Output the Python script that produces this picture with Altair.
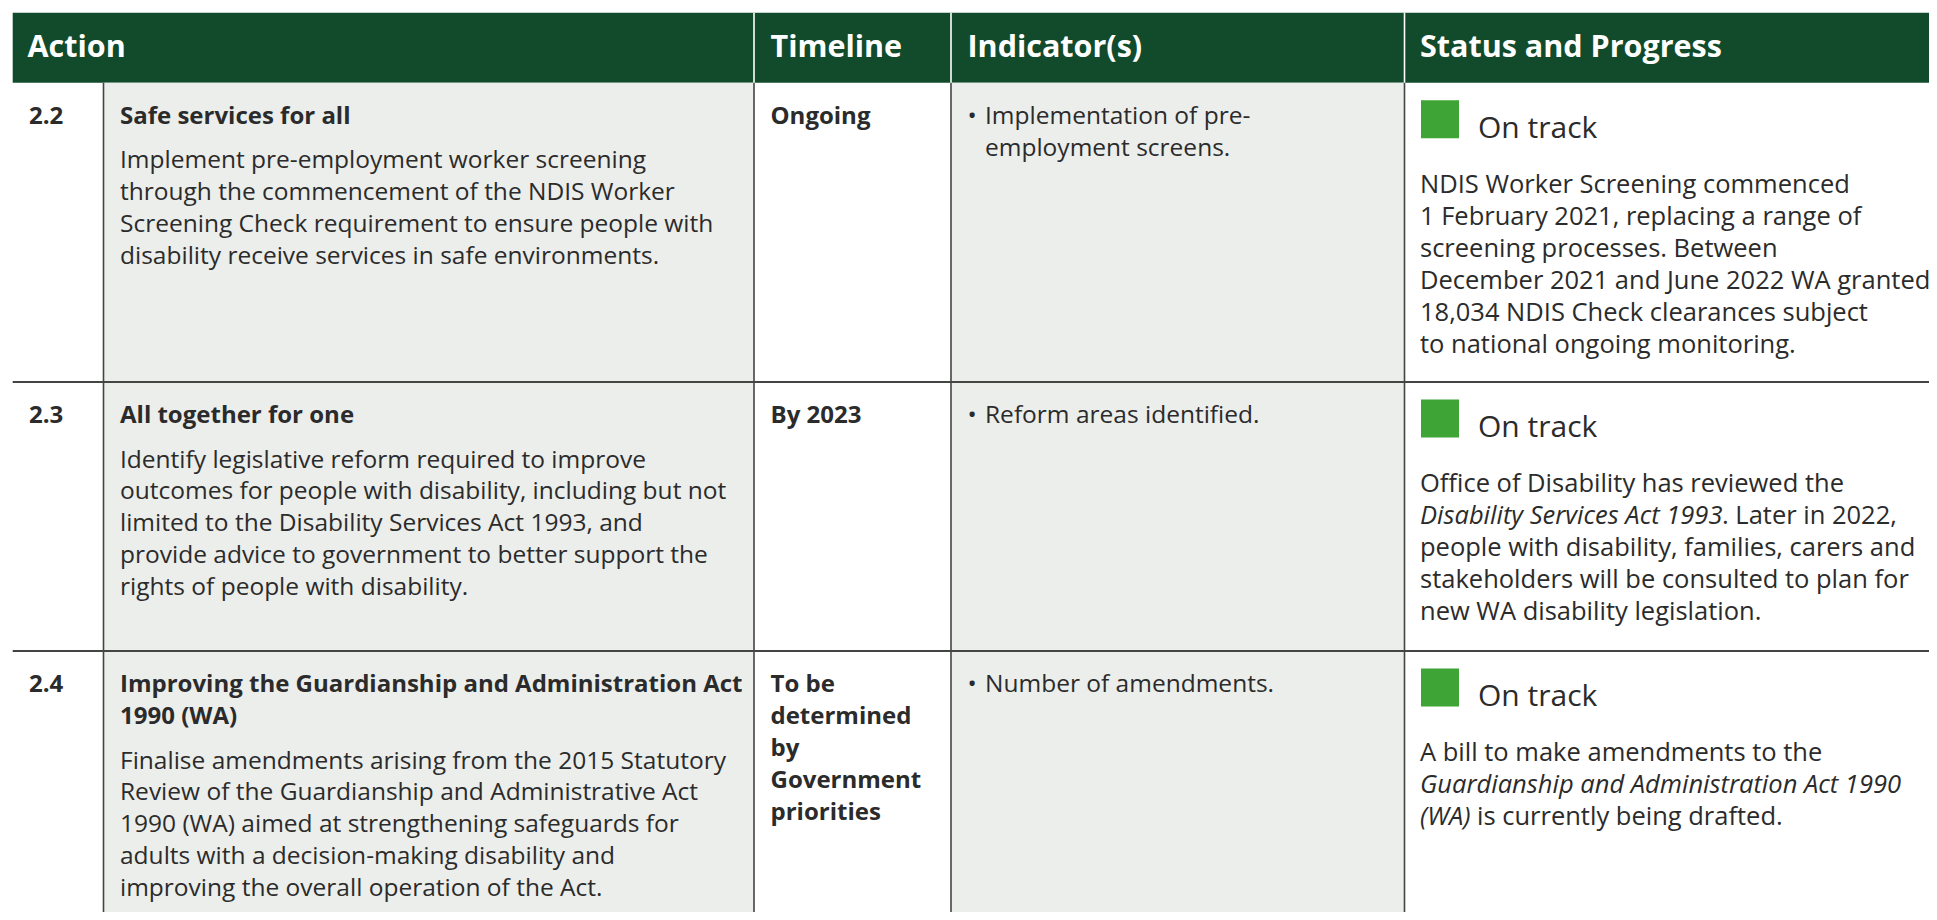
import altair as alt
import pandas as pd

# ---------------- content ----------------
HEADERS = ["Action", "Timeline", "Indicator(s)", "Status and Progress"]

ACTION_IDS = ["2.2", "2.3", "2.4"]

ACTION_TITLES = [
    ["Safe services for all"],
    ["All together for one"],
    ["Improving the Guardianship and Administration Act", "1990 (WA)"],
]

ACTION_BODIES = [
    ["Implement pre-employment worker screening",
     "through the commencement of the NDIS Worker",
     "Screening Check requirement to ensure people with",
     "disability receive services in safe environments."],
    ["Identify legislative reform required to improve",
     "outcomes for people with disability, including but not",
     "limited to the Disability Services Act 1993, and",
     "provide advice to government to better support the",
     "rights of people with disability."],
    ["Finalise amendments arising from the 2015 Statutory",
     "Review of the Guardianship and Administrative Act",
     "1990 (WA) aimed at strengthening safeguards for",
     "adults with a decision-making disability and",
     "improving the overall operation of the Act."],
]

TIMELINES = [
    ["Ongoing"],
    ["By 2023"],
    ["To be", "determined", "by", "Government", "priorities"],
]

INDICATORS = [
    ["Implementation of pre-", "employment screens."],
    ["Reform areas identified."],
    ["Number of amendments."],
]

STATUSES = ["On track", "On track", "On track"]

# each progress line is a list of (segment text, italic?) pieces
PROGRESS = [
    [[("NDIS Worker Screening commenced", False)],
     [("1 February 2021, replacing a range of", False)],
     [("screening processes. Between", False)],
     [("December 2021 and June 2022 WA granted", False)],
     [("18,034 NDIS Check clearances subject", False)],
     [("to national ongoing monitoring.", False)]],
    [[("Office of Disability has reviewed the", False)],
     [("Disability Services Act 1993", True), (". Later in 2022,", False)],
     [("people with disability, families, carers and", False)],
     [("stakeholders will be consulted to plan for", False)],
     [("new WA disability legislation.", False)]],
    [[("A bill to make amendments to the", False)],
     [("Guardianship and Administration Act 1990", True)],
     [("(WA)", True), ("is currently being drafted.", False)]],
]

# ---------------- layout / style ----------------
W, H = 1921, 904          # plot area; data units = page pixels
X0, Y0 = 8, 8
LEFT = 12.7
RIGHT = X0 + W
BOTTOM = Y0 + H
HEAD_TOP, HEAD_BOT = 12.7, 82.7
ROW_TOPS = [82.7, 382.0, 651.0]
COL = [LEFT, 103.5, 754.0, 951.0, 1404.5, RIGHT]

TX_NUM, TX_ACT, TX_TIME, TX_BUL, TX_IND, TX_STAT = 29, 120, 770.5, 967.5, 985, 1420
HEAD_X = [27.5, 770.5, 967.5, 1420]
HEAD_BASE = 57
FIRST = 41
STEP = 31.8
TITLE_GAP = 44.5
SQ_TOP, SQ_SIZE = 17.5, 38
ONTRACK_BASE, ONTRACK_X = 55, 1478
PROG_FIRST, PROG_STEP = 110, 32
# advance of an italic segment (plus the following word space where one follows)
SEG_WIDTH = {"Disability Services Act 1993": 302, "(WA)": 57}

GREEN_HEAD = "#114b2c"
GREY_CELL = "#eceeeb"
TEXT = "#2b2b2b"
STATUS_GREEN = "#3ea435"
LINE = "#444444"
FONT_HEAD = "Open Sans"
FONT = "Open Sans"

xs = alt.Scale(domain=[X0, RIGHT], nice=False, zero=False)
ys = alt.Scale(domain=[Y0, BOTTOM], nice=False, zero=False, reverse=True)

# ---------------- build tables ----------------
rects = []
rects.append(dict(x=LEFT, x2=RIGHT, y=HEAD_TOP, y2=HEAD_BOT, c=GREEN_HEAD))
rects.append(dict(x=COL[1], x2=COL[2], y=HEAD_BOT, y2=BOTTOM, c=GREY_CELL))
rects.append(dict(x=COL[3], x2=COL[4], y=HEAD_BOT, y2=BOTTOM, c=GREY_CELL))
for i, top in enumerate(ROW_TOPS):
    if STATUSES[i] == "On track":
        rects.append(dict(x=1421, x2=1421 + SQ_SIZE, y=top + SQ_TOP,
                          y2=top + SQ_TOP + SQ_SIZE, c=STATUS_GREEN))
rect_df = pd.DataFrame(rects)

vlines = pd.DataFrame([dict(x=c, y=HEAD_BOT, y2=BOTTOM) for c in COL[1:5]])
hdr_lines = pd.DataFrame([dict(x=c, y=HEAD_TOP, y2=HEAD_BOT) for c in COL[2:5]])
hlines = pd.DataFrame([dict(x=LEFT, x2=RIGHT, y=t) for t in ROW_TOPS[1:]])

header_df = pd.DataFrame([dict(x=x, y=HEAD_BASE, t=t) for x, t in zip(HEAD_X, HEADERS)])

bold, body, prog, italic, status = [], [], [], [], []
for i, top in enumerate(ROW_TOPS):
    base = top + FIRST
    bold.append(dict(x=TX_NUM, y=base, t=ACTION_IDS[i]))
    for k, line in enumerate(ACTION_TITLES[i]):
        bold.append(dict(x=TX_ACT, y=base + k * 32, t=line))
    b0 = base + (len(ACTION_TITLES[i]) - 1) * 32 + TITLE_GAP
    for k, line in enumerate(ACTION_BODIES[i]):
        body.append(dict(x=TX_ACT, y=b0 + k * STEP, t=line))
    for k, line in enumerate(TIMELINES[i]):
        bold.append(dict(x=TX_TIME, y=base + k * 32, t=line))
    for k, line in enumerate(INDICATORS[i]):
        if k == 0:
            body.append(dict(x=TX_BUL, y=base, t="•"))
        body.append(dict(x=TX_IND, y=base + k * 32, t=line))
    status.append(dict(x=ONTRACK_X, y=top + ONTRACK_BASE, t=STATUSES[i]))
    for k, segs in enumerate(PROGRESS[i]):
        x = TX_STAT
        y = top + PROG_FIRST + k * PROG_STEP
        for txt, it in segs:
            (italic if it else prog).append(dict(x=x, y=y, t=txt))
            x += SEG_WIDTH.get(txt, 0)

def text_layer(rows, size, weight, color, style="normal", font=FONT):
    return alt.Chart(pd.DataFrame(rows)).mark_text(
        align="left", baseline="alphabetic", fontSize=size, fontWeight=weight,
        fontStyle=style, color=color, font=font
    ).encode(x=alt.X("x:Q", scale=xs, axis=None),
             y=alt.Y("y:Q", scale=ys, axis=None),
             text="t:N")

rect_layer = alt.Chart(rect_df).mark_rect().encode(
    x=alt.X("x:Q", scale=xs, axis=None), x2="x2:Q",
    y=alt.Y("y:Q", scale=ys, axis=None), y2="y2:Q",
    color=alt.Color("c:N", scale=None))

vline_layer = alt.Chart(vlines).mark_rule(color=LINE, strokeWidth=1.6).encode(
    x=alt.X("x:Q", scale=xs, axis=None),
    y=alt.Y("y:Q", scale=ys, axis=None), y2="y2:Q")

hdr_line_layer = alt.Chart(hdr_lines).mark_rule(color="#ffffff", strokeWidth=1.6).encode(
    x=alt.X("x:Q", scale=xs, axis=None),
    y=alt.Y("y:Q", scale=ys, axis=None), y2="y2:Q")

hline_layer = alt.Chart(hlines).mark_rule(color=LINE, strokeWidth=2).encode(
    x=alt.X("x:Q", scale=xs, axis=None), x2="x2:Q",
    y=alt.Y("y:Q", scale=ys, axis=None))

chart = alt.layer(
    rect_layer,
    vline_layer,
    hdr_line_layer,
    hline_layer,
    text_layer(header_df.to_dict("records"), 30.5, "bold", "#ffffff", font=FONT_HEAD),
    text_layer(bold, 24, "bold", TEXT),
    text_layer(body, 24.5, "normal", TEXT),
    text_layer(prog, 25.5, "normal", TEXT),
    text_layer(italic, 25.5, "normal", TEXT, style="italic"),
    text_layer(status, 30, "normal", TEXT),
).properties(
    width=W, height=H,
    autosize=alt.AutoSizeParams(type="none"),
    padding=0,
).configure_view(stroke=None)

chart.save("out.html", embed_options={"renderer": "svg", "actions": False})
